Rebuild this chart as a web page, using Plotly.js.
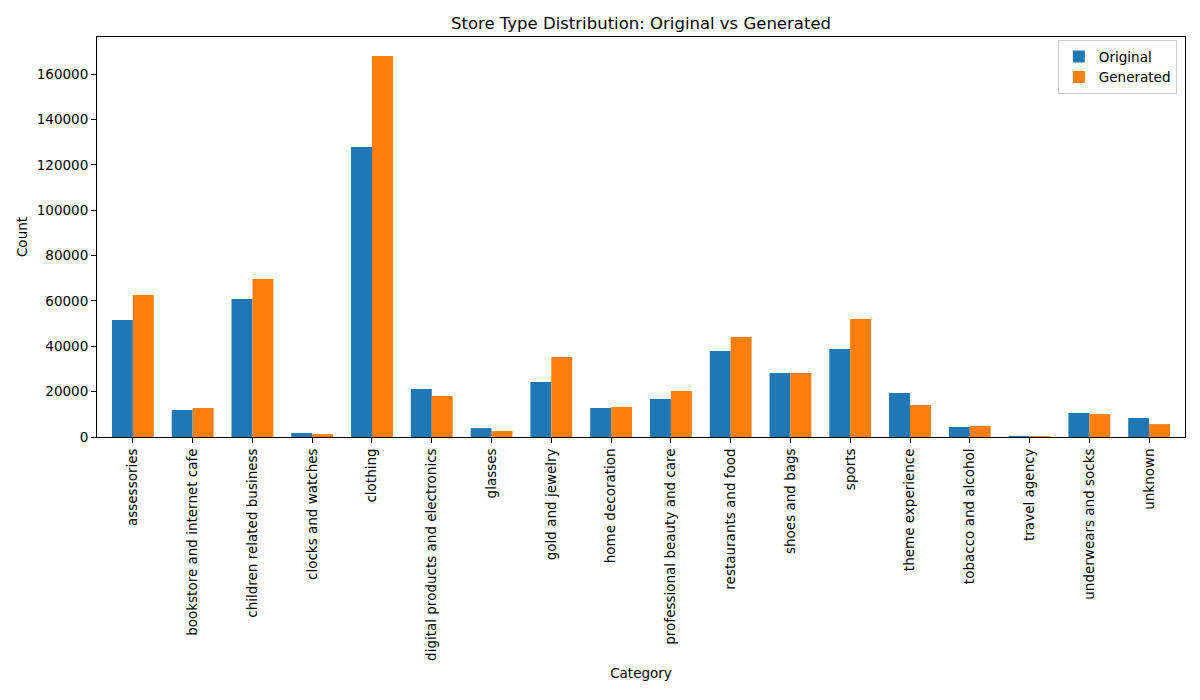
<!DOCTYPE html>
<html>
<head>
<meta charset="utf-8">
<script src="https://cdn.plot.ly/plotly-3.0.1.min.js"></script>
<style>
  html, body { margin: 0; padding: 0; background: #fff; }
  #chart { width: 1200px; height: 700px; }
</style>
</head>
<body>
<div id="chart"></div>
<script>
// Store type counts
const categories = [
  'assessories', 'bookstore and internet cafe', 'children related business',
  'clocks and watches', 'clothing', 'digital products and electronics',
  'glasses', 'gold and jewelry', 'home decoration',
  'professional beauty and care', 'restaurants and food', 'shoes and bags',
  'sports', 'theme experience', 'tobacco and alcohol', 'travel agency',
  'underwears and socks', 'unknown'
];
const original  = [51600, 11900, 60900, 1800, 127900, 21200, 3900, 24300, 12800,
                   16800, 37900, 28200, 38800, 19400, 4400, 500, 10600, 8400];
const generated = [62600, 12800, 69700, 1300, 168000, 18100, 2600, 35300, 13200,
                   20300, 44100, 28200, 52000, 14100, 4900, 400, 10100, 5700];
const yTicks = [0, 20000, 40000, 60000, 80000, 100000, 120000, 140000, 160000];

const COLORS = { original: '#1f77b4', generated: '#ff7f0e', axis: '#000000' };
const BAR_W = 0.35;

const idx = categories.map((_, i) => i);

const traces = [
  {
    type: 'bar', name: 'Original',
    x: idx.map(i => i - BAR_W / 2), y: original, width: BAR_W,
    marker: { color: COLORS.original, line: { width: 0 } },
  },
  {
    type: 'bar', name: 'Generated',
    x: idx.map(i => i + BAR_W / 2), y: generated, width: BAR_W,
    marker: { color: COLORS.generated, line: { width: 0 } },
  },
];

const axisBase = {
  showline: true, linecolor: COLORS.axis, linewidth: 1, mirror: true,
  showgrid: false, zeroline: false,
  ticks: 'outside', ticklen: 5, tickwidth: 1, tickcolor: COLORS.axis,
  tickfont: { size: 13.5, color: '#000' },
};

const layout = {
  width: 1200, height: 700,
  paper_bgcolor: '#fff', plot_bgcolor: '#fff',
  font: { family: 'DejaVu Sans, sans-serif', color: '#000' },
  margin: { l: 97, r: 15, t: 37, b: 263 },
  barmode: 'overlay',
  showlegend: true,
  title: {
    text: 'Store Type Distribution: Original vs Generated',
    font: { size: 16.5 }, xref: 'paper', x: 0.5, xanchor: 'center',
    y: 0.967, yanchor: 'middle',
  },
  xaxis: {
    ...axisBase,
    range: [-0.6, 17.6],
    tickmode: 'array', tickvals: idx, ticktext: categories,
    tickangle: -90,
    title: { text: 'Category', font: { size: 13.5 }, standoff: 8 },
  },
  yaxis: {
    ...axisBase,
    range: [0, 176400],
    tickmode: 'array', tickvals: yTicks, ticktext: yTicks.map(String),
    title: { text: 'Count', font: { size: 13.5 }, standoff: 6 },
  },
  legend: {
    x: 0.9925, xanchor: 'right', y: 0.992, yanchor: 'top',
    bgcolor: 'rgba(255,255,255,0.8)', bordercolor: '#cccccc', borderwidth: 1,
    font: { size: 13.5 }, traceorder: 'normal',
  },
};

Plotly.newPlot('chart', traces, layout, { displayModeBar: false, staticPlot: true });
</script>
</body>
</html>
